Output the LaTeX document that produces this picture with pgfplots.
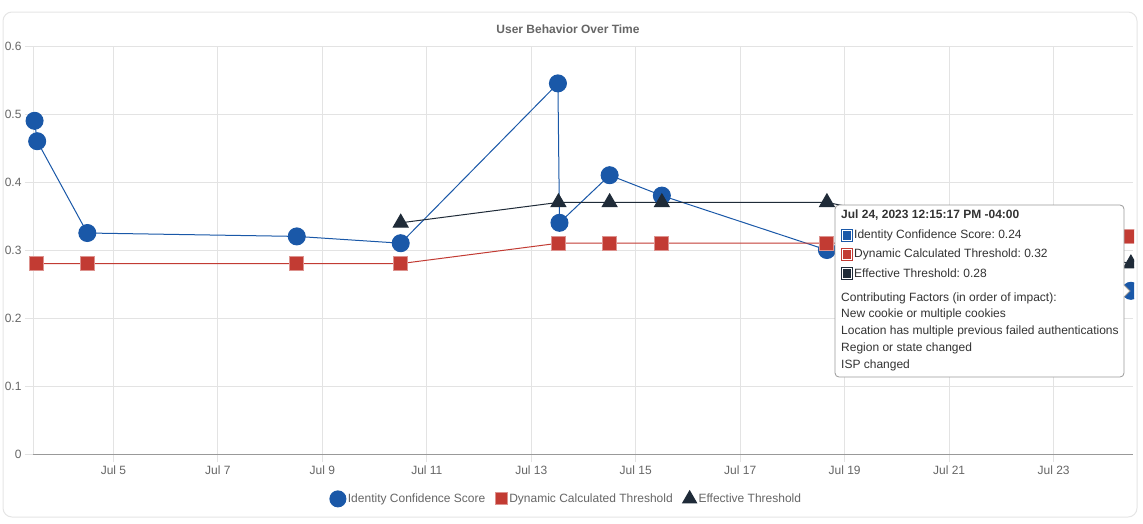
\documentclass[border=0pt]{standalone}
\usepackage{pgfplots}
\pgfplotsset{compat=1.18}
\usepackage{fontspec}
\setmainfont{Liberation Sans}
\frenchspacing

\definecolor{icsblue}{HTML}{1A58A8}
\definecolor{dctred}{HTML}{C23B33}
\definecolor{etdark}{HTML}{1F2B38}
\definecolor{gridgray}{HTML}{E3E3E3}
\definecolor{txtgray}{HTML}{666666}
\definecolor{tipgray}{HTML}{333333}

\newcommand{\px}[1]{\fontsize{#1}{#1}\selectfont}

\pgfplotsset{
  markonly legend/.style={legend image code/.code={%
    \draw[##1, mark size=#1] plot[only marks] coordinates {(4pt,0pt)};}},
}

\begin{document}
\begin{tikzpicture}[x=1pt,y=1pt]
\useasboundingbox (0,0) rectangle (1143,-523);
% card
\draw[draw=black!10, line width=1pt, fill=white, rounded corners=9] (3,-12) rectangle (1137,-517);
\node[font=\bfseries\px{12}, text=txtgray] at (568,-29) {User Behavior Over Time};

\begin{scope}
\clip (0,0) rectangle (1134,-523);
\begin{axis}[
  at={(33pt,-454pt)}, anchor=origin,
  scale only axis, width=1100pt, height=408pt,
  xmin=3.46, xmax=24.52, ymin=0, ymax=0.6,
  ytick={0,0.1,0.2,0.3,0.4,0.5,0.6},
  xtick={5,7,9,11,13,15,17,19,21,23},
  xticklabels={Jul 5,Jul 7,Jul 9,Jul 11,Jul 13,Jul 15,Jul 17,Jul 19,Jul 21,Jul 23},
  grid=major,
  major grid style={gridgray, line width=0.8pt},
  axis x line*=bottom, axis y line*=left,
  x axis line style={black!40, line width=0.8pt},
  y axis line style={gridgray, line width=0.8pt},
  tick style={gridgray, line width=0.8pt},
  major tick length=8pt, tick align=outside,
  ticklabel style={font=\px{12}, text=txtgray},
  /pgf/number format/assume math mode=true,
  yticklabel style={/pgf/number format/fixed, /pgf/number format/precision=1},
  legend columns=3,
  legend style={draw=none, fill=none, at={(0.485,-0.110)}, anchor=center,
    font=\px{12}, text=txtgray,
    /tikz/every even column/.append style={column sep=8pt}},
]
% Identity Confidence Score
\addplot[icsblue, line width=1pt, mark=*, mark size=8.5pt,
  mark options={fill=icsblue, draw=icsblue}, markonly legend=8pt]
  coordinates {
  (3.49,0.490) (3.54,0.460) (4.50,0.325) (8.51,0.320) (10.50,0.310)
  (13.51,0.545) (13.54,0.340) (14.50,0.410) (15.50,0.380) (18.66,0.300)
  (24.48,0.240)
};
\addlegendentry{Identity Confidence Score}
% Dynamic Calculated Threshold
\addplot[dctred, line width=1pt, mark=square*, mark size=7pt,
  mark options={fill=dctred, draw=dctred!55}, markonly legend=6pt]
  coordinates {
  (3.52,0.280) (4.50,0.280) (8.51,0.280) (10.50,0.280)
  (13.52,0.310) (14.50,0.310) (15.50,0.310) (18.66,0.310)
  (24.48,0.320)
};
\addlegendentry{Dynamic Calculated Threshold}
% Effective Threshold
\addplot[etdark, line width=1pt, mark=triangle*, mark size=8.5pt,
  mark options={fill=etdark, draw=etdark}, markonly legend=8pt]
  coordinates {
  (10.50,0.340) (13.52,0.370) (14.50,0.370) (15.50,0.370) (18.66,0.370)
  (24.48,0.280)
};
\addlegendentry{Effective Threshold}
\end{axis}
\end{scope}

% tooltip
\draw[draw=black!40, line width=0.8pt, fill=white, rounded corners=4]
  (835,-205) rectangle (1124,-377);
\fill[white] (1123.4,-285) -- (1130,-291) -- (1123.4,-297) -- cycle;
\draw[black!40, line width=0.8pt] (1124,-285) -- (1130,-291) -- (1124,-297);
\node[anchor=west, inner sep=0, font=\bfseries\px{12}, text=tipgray] at (841,-215) {Jul 24, 2023 12:15:17 PM -04:00};
\begin{scope}[line width=0.8pt]
\draw[icsblue, fill=icsblue] (841.5,-229) rectangle (852.5,-241);
\draw[white] (842.5,-230) rectangle (851.5,-240);
\draw[dctred, fill=dctred] (841.5,-248) rectangle (852.5,-260);
\draw[white] (842.5,-249) rectangle (851.5,-259);
\draw[etdark, fill=etdark] (841.5,-267) rectangle (852.5,-279);
\draw[white] (842.5,-268) rectangle (851.5,-278);
\end{scope}
\begin{scope}[every node/.style={anchor=west, inner sep=0, font=\px{12}, text=tipgray}]
\node at (854,-235) {Identity Confidence Score: 0.24};
\node at (854,-254) {Dynamic Calculated Threshold: 0.32};
\node at (854,-273) {Effective Threshold: 0.28};
\node at (841,-298) {Contributing Factors (in order of impact):};
\node at (841,-314) {New cookie or multiple cookies};
\node at (841,-331) {Location has multiple previous failed authentications};
\node at (841,-348) {Region or state changed};
\node at (841,-365) {ISP changed};
\end{scope}
\end{tikzpicture}
\end{document}
